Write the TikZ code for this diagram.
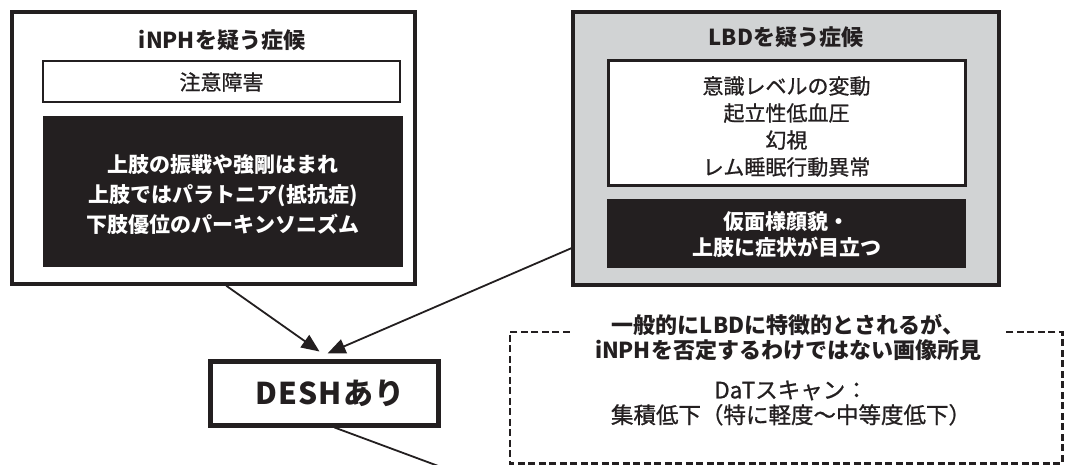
\documentclass[tikz,border=0pt]{standalone}
\usepackage{fontspec}
\newfontfamily\jp{Noto Sans CJK JP}
\newfontfamily\jpmed[FakeBold=0.9]{Noto Sans CJK JP}
\usetikzlibrary{arrows.meta,calc}
\definecolor{ink}{HTML}{231F20}
\definecolor{panelgray}{HTML}{D1D3D4}
\begin{document}
\begin{tikzpicture}[x=1pt,y=-1pt,
  outerbox/.style={draw=ink, line width=3.5pt, rectangle, inner sep=0pt, anchor=center},
  whitebox/.style={draw=ink, fill=white, line width=3pt, rectangle, inner sep=0pt, anchor=center},
  blackbox/.style={fill=ink, rectangle, inner sep=0pt, anchor=center},
  medtext/.style={inner sep=0pt, anchor=center, align=center, text=ink, font=\jpmed\fontsize{21}{27}\selectfont},
  whitetext/.style={inner sep=0pt, anchor=center, align=center, text=white, font=\jp\bfseries\fontsize{21}{30}\selectfont},
  titletext/.style={inner sep=0pt, anchor=center, text=ink, font=\jp\bfseries\fontsize{22}{26}\selectfont},
  deshbox/.style={draw=ink, fill=white, line width=5pt, rectangle, inner sep=0pt, anchor=center},
  deshtext/.style={inner sep=0pt, anchor=center, text=ink, font=\jp\bfseries\fontsize{30}{34}\selectfont\addfontfeatures{LetterSpace=4}},
  headtext/.style={inner sep=0pt, anchor=center, align=center, text=ink, font=\jp\bfseries\fontsize{22}{25}\selectfont},
  bodytext/.style={inner sep=0pt, anchor=center, align=center, text=ink, font=\jpmed\fontsize{22.5}{25}\selectfont},
  dashline/.style={draw=ink, line width=2.6pt, dash pattern=on 7pt off 3.5pt},
  conn/.style={draw=ink, line width=1.8pt},
  arrowconn/.style={conn, -{Triangle[length=18pt,width=15pt]}}
]
\useasboundingbox[fill=white] (0,0) rectangle (1068,465);

% left panel
\node[outerbox, minimum width=403, minimum height=272] (inph) at (213.5,148) {};
\node[titletext] (inphtitle) at (222,40) {iNPHを疑う症候};
\node[whitebox, line width=2.5pt, minimum width=357, minimum height=41] (attn) at (221.5,81.5) {};
\node[medtext] (attntext) at ($(attn.center)+(0,0.5)$) {注意障害};
\node[blackbox, minimum width=360, minimum height=151] (motorL) at (223,191.5) {};
\node[whitetext] (motorLtext) at ($(motorL.center)+(0,3)$)
  {上肢の振戦や強剛はまれ\\上肢ではパラトニア(抵抗症)\\下肢優位のパーキンソニズム};

% right panel
\node[outerbox, fill=panelgray, minimum width=426, minimum height=273] (lbd) at (786,148.5) {};
\node[titletext] (lbdtitle) at (786,37) {LBDを疑う症候};
\node[whitebox, minimum width=357, minimum height=125] (core) at (786.5,123.5) {};
\node[medtext] (coretext) at ($(core.center)+(0,3)$)
  {意識レベルの変動\\起立性低血圧\\幻視\\レム睡眠行動異常};
\node[blackbox, minimum width=359, minimum height=68] (motorR) at (786.5,233.5) {};
\node[whitetext, font=\jp\bfseries\fontsize{21}{26}\selectfont] (motorRtext) at ($(motorR.center)+(0,1.5)$)
  {仮面様顔貌・\\上肢に症状が目立つ};

% DESH
\node[deshbox, minimum width=228, minimum height=64] (desh) at (324,393) {};
\node[deshtext] (deshtext) at ($(desh.center)+(6,0)$) {DESHあり};

% dashed imaging box
\node[inner sep=0pt, minimum width=552, minimum height=131] (dat) at (786,397.5) {};
\draw[dashline] ($(dat.north west)+(60,0)$) -- (dat.north west) -- (dat.south west)
  -- (dat.south east) -- (dat.north east) -- ++(-59,0);
\node[headtext] (dathead) at (788,337.5)
  {一般的にLBDに特徴的とされるが、\\iNPHを否定するわけではない画像所見};
\node[bodytext] (datbody) at (791,403)
  {DaTスキャン：\\集積低下（特に軽度～中等度低下）};

% connectors
\coordinate (tip1) at ($(desh.north west)+(112,-7)$);
\coordinate (tip2) at ($(desh.north west)+(120,-5)$);
\coordinate (exit) at (441,467);
\draw[arrowconn] ($(inph.south west)+(216,0)$) -- (tip1);
\draw[arrowconn] ($(lbd.north west)+(0,238)$) -- (tip2);
\draw[conn] ($(desh.south west)+(127,0)$) -- (exit);
\end{tikzpicture}
\end{document}
